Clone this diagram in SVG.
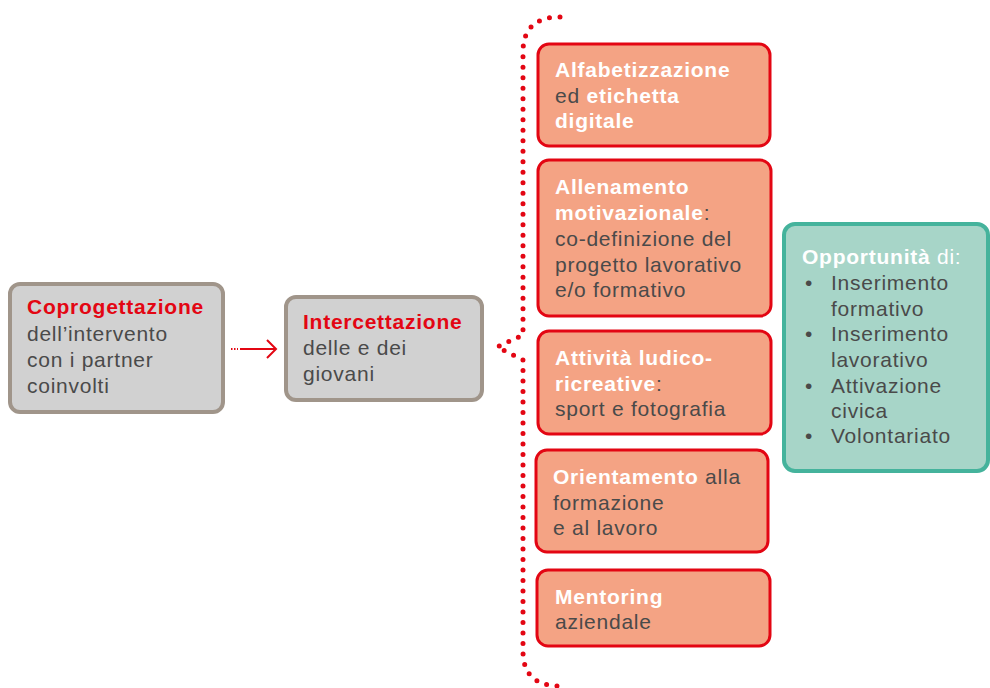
<svg xmlns="http://www.w3.org/2000/svg" width="990" height="688" viewBox="0 0 990 688">
<style>
text{font-family:"Liberation Sans",Arial,sans-serif;font-size:21px;fill:#4a4a4a;letter-spacing:0.75px}
.b{font-weight:bold}
.r{fill:#e30613}
.w{fill:#ffffff}
.grey{fill:#d1d1d1;stroke:#a0958a;stroke-width:4}
.org{fill:#f4a384;stroke:#e30613;stroke-width:3}
.teal{fill:#a7d5c8;stroke:#45b39c;stroke-width:4}
.dot{fill:none;stroke:#e30613;stroke-width:5;stroke-linecap:round;stroke-dasharray:0 10.5}
</style>
<g id="connectors">
<path d="M231,349 L238,349" fill="none" stroke="#e30613" stroke-width="2" stroke-dasharray="1.5 1.5"/>
<path d="M240,349 L276,349 M267,340 L276,349 L267,358" fill="none" stroke="#e30613" stroke-width="2"/>
<path class="dot" d="M560,17 Q523,17 523,52 L523,335 L497,347 L523,360 L523,651 Q523,686 560,686"/>
</g>
<g id="coprogettazione">
<rect class="grey" x="10" y="284" width="213" height="128" rx="10"/>
<text x="27" y="314" class="b r">Coprogettazione</text>
<text x="27" y="341">dell’intervento</text>
<text x="27" y="367">con i partner</text>
<text x="27" y="393">coinvolti</text>
</g>
<g id="intercettazione">
<rect class="grey" x="286" y="297" width="196" height="103" rx="10"/>
<text x="303" y="329" class="b r">Intercettazione</text>
<text x="303" y="355">delle e dei</text>
<text x="303" y="381">giovani</text>
</g>
<g id="alfabetizzazione">
<rect class="org" x="538" y="44" width="232" height="102" rx="11"/>
<text x="555" y="77" class="b w">Alfabetizzazione</text>
<text x="555" y="103">ed <tspan class="b w">etichetta</tspan></text>
<text x="555" y="128" class="b w">digitale</text>
</g>
<g id="allenamento">
<rect class="org" x="538" y="160" width="233" height="156" rx="11"/>
<text x="555" y="194" class="b w">Allenamento</text>
<text x="555" y="220"><tspan class="b w">motivazionale</tspan>:</text>
<text x="555" y="246">co-definizione del</text>
<text x="555" y="272">progetto lavorativo</text>
<text x="555" y="297">e/o formativo</text>
</g>
<g id="attivita">
<rect class="org" x="538" y="331" width="233" height="103" rx="11"/>
<text x="555" y="365" class="b w">Attività ludico-</text>
<text x="555" y="391"><tspan class="b w">ricreative</tspan>:</text>
<text x="555" y="416">sport e fotografia</text>
</g>
<g id="orientamento">
<rect class="org" x="536" y="450" width="232" height="102" rx="11"/>
<text x="553" y="484"><tspan class="b w">Orientamento</tspan> alla</text>
<text x="553" y="510">formazione</text>
<text x="553" y="535">e al lavoro</text>
</g>
<g id="mentoring">
<rect class="org" x="537" y="570" width="233" height="76" rx="11"/>
<text x="555" y="604" class="b w">Mentoring</text>
<text x="555" y="629">aziendale</text>
</g>
<g id="opportunita">
<rect class="teal" x="784" y="224" width="204" height="247" rx="11"/>
<text x="802" y="264"><tspan class="b w">Opportunità</tspan><tspan class="w"> di:</tspan></text>
<text x="805" y="290">•</text>
<text x="831" y="290">Inserimento</text>
<text x="831" y="316">formativo</text>
<text x="805" y="341">•</text>
<text x="831" y="341">Inserimento</text>
<text x="831" y="367">lavorativo</text>
<text x="805" y="393">•</text>
<text x="831" y="393">Attivazione</text>
<text x="831" y="418">civica</text>
<text x="805" y="443">•</text>
<text x="831" y="443">Volontariato</text>
</g>
</svg>
